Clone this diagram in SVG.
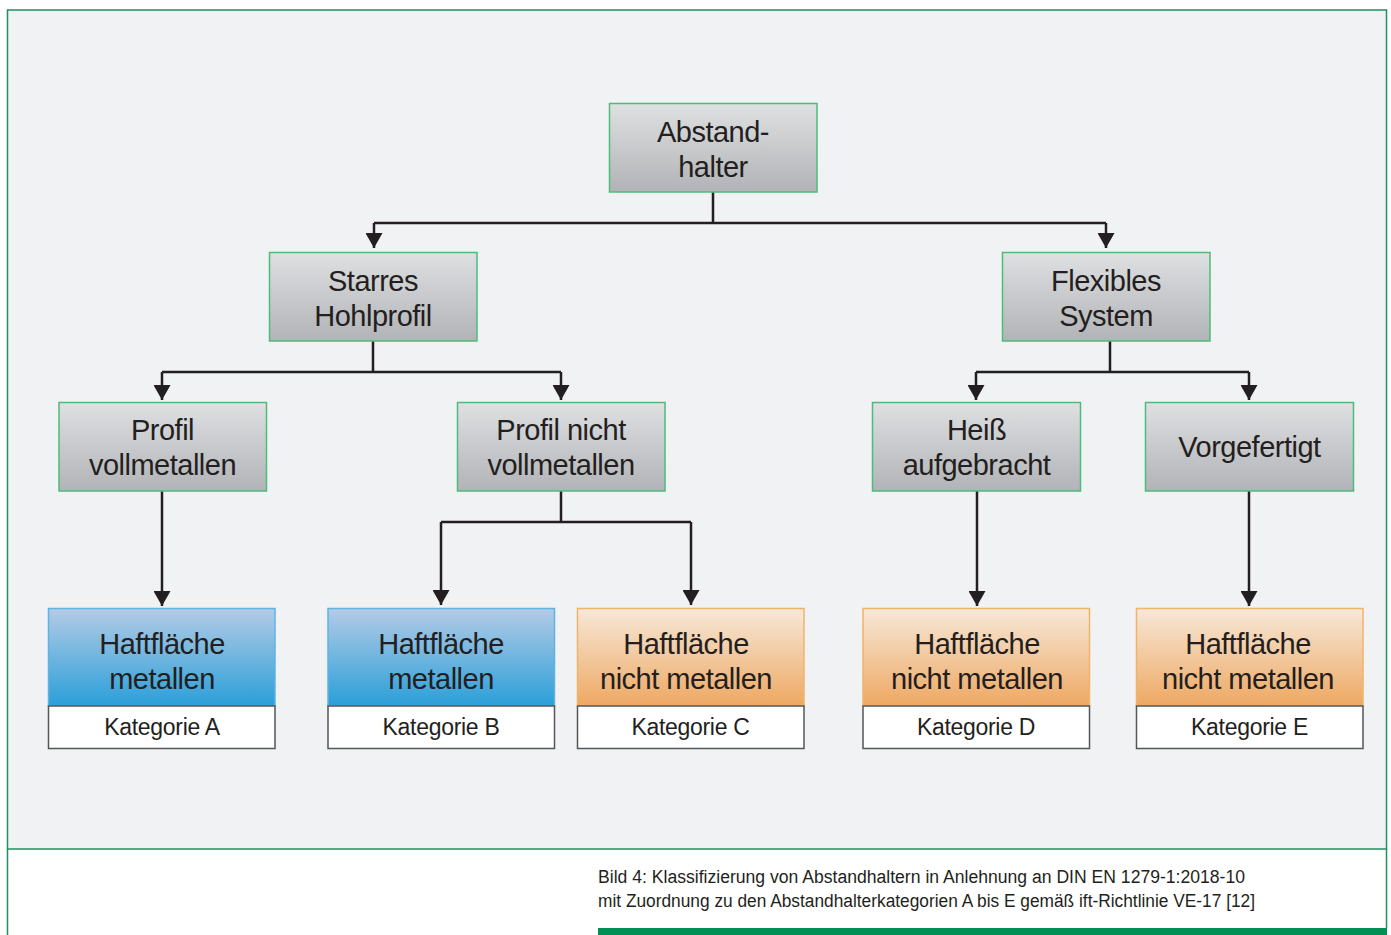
<svg xmlns="http://www.w3.org/2000/svg" width="1391" height="935" viewBox="0 0 1391 935">
<defs>
<linearGradient id="gGrey" x1="0" y1="0" x2="0" y2="1"><stop offset="0" stop-color="#dfe0e2"/><stop offset="1" stop-color="#b2b3b6"/></linearGradient>
<linearGradient id="gBlue" x1="0" y1="0" x2="0" y2="1"><stop offset="0" stop-color="#b4cbe6"/><stop offset="1" stop-color="#2a9fd9"/></linearGradient>
<linearGradient id="gOrange" x1="0" y1="0" x2="0" y2="1"><stop offset="0" stop-color="#f7e8d8"/><stop offset="1" stop-color="#eea862"/></linearGradient>
<marker id="arr" viewBox="0 0 15 17" refX="15" refY="8.5" markerWidth="15" markerHeight="17" markerUnits="userSpaceOnUse" orient="auto"><path d="M0,0 L15,8.5 L0,17 z" fill="#231f20"/></marker>
</defs>
<style>
.grey{fill:url(#gGrey);stroke:#4dbb7a;stroke-width:1.5}
.blue{fill:url(#gBlue);stroke:#5fb3e3;stroke-width:1.5}
.orange{fill:url(#gOrange);stroke:#f0b469;stroke-width:1.5}
.cat{fill:#ffffff;stroke:#555658;stroke-width:1.5}
.t{font-family:"Liberation Sans",Arial,sans-serif;font-size:29px;letter-spacing:-0.5px;fill:#231f20;text-anchor:middle}
.k{font-family:"Liberation Sans",Arial,sans-serif;font-size:23px;letter-spacing:-0.3px;fill:#231f20;text-anchor:middle}
.cap{font-family:"Liberation Sans",Arial,sans-serif;font-size:18px;fill:#231f20}
.c{fill:none;stroke:#231f20;stroke-width:2.5}
</style>
<rect x="0" y="0" width="1391" height="935" fill="#ffffff"/>
<rect x="7.5" y="10" width="1379" height="839" fill="#f1f2f4" stroke="#1f9160" stroke-width="1.5"/>
<path d="M7.5,849 V935 M1386.5,849 V928" stroke="#1f9160" stroke-width="1.5" fill="none"/>
<rect x="598" y="928" width="789" height="7" fill="#009055"/>

<g id="connectors">
<path class="c" d="M713,192 V223 M374,223 H1106"/>
<path class="c" d="M374,223 V248" marker-end="url(#arr)"/>
<path class="c" d="M1106,223 V248" marker-end="url(#arr)"/>
<path class="c" d="M373,341 V372 M162,372 H561"/>
<path class="c" d="M162,372 V400" marker-end="url(#arr)"/>
<path class="c" d="M561,372 V400" marker-end="url(#arr)"/>
<path class="c" d="M1110,341 V372 M976,372 H1249"/>
<path class="c" d="M976,372 V400" marker-end="url(#arr)"/>
<path class="c" d="M1249,372 V400" marker-end="url(#arr)"/>
<path class="c" d="M162,491 V606" marker-end="url(#arr)"/>
<path class="c" d="M561,491 V522 M441,522 H691"/>
<path class="c" d="M441,522 V605" marker-end="url(#arr)"/>
<path class="c" d="M691,522 V605" marker-end="url(#arr)"/>
<path class="c" d="M977,491 V606" marker-end="url(#arr)"/>
<path class="c" d="M1249,491 V606" marker-end="url(#arr)"/>
</g>

<g id="n-abstandhalter">
<rect class="grey" x="609.5" y="103.5" width="207.5" height="88.5"/>
<text class="t" x="713" y="142">Abstand-</text>
<text class="t" x="713" y="177">halter</text>
</g>
<g id="n-starres">
<rect class="grey" x="269.5" y="252.5" width="207.5" height="88.5"/>
<text class="t" x="373" y="291">Starres</text>
<text class="t" x="373" y="326">Hohlprofil</text>
</g>
<g id="n-flexibles">
<rect class="grey" x="1002.5" y="252.5" width="207.5" height="88.5"/>
<text class="t" x="1106" y="291">Flexibles</text>
<text class="t" x="1106" y="326">System</text>
</g>
<g id="n-profil-voll">
<rect class="grey" x="59" y="402.5" width="207.5" height="88.5"/>
<text class="t" x="162.5" y="440">Profil</text>
<text class="t" x="162.5" y="475">vollmetallen</text>
</g>
<g id="n-profil-nicht">
<rect class="grey" x="457.5" y="402.5" width="207.5" height="88.5"/>
<text class="t" x="561" y="440">Profil nicht</text>
<text class="t" x="561" y="475">vollmetallen</text>
</g>
<g id="n-heiss">
<rect class="grey" x="872.5" y="402.5" width="208" height="88.5"/>
<text class="t" x="976.5" y="440">Heiß</text>
<text class="t" x="976.5" y="475">aufgebracht</text>
</g>
<g id="n-vorgefertigt">
<rect class="grey" x="1145.5" y="402.5" width="208" height="88.5"/>
<text class="t" x="1249.5" y="457">Vorgefertigt</text>
</g>

<g id="n-kat-a">
<rect class="blue" x="48.5" y="608.5" width="226.5" height="97.5"/>
<rect class="cat" x="48.5" y="706" width="226.5" height="42.5"/>
<text class="t" x="162" y="654">Haftfläche</text>
<text class="t" x="162" y="689">metallen</text>
<text class="k" x="162" y="735">Kategorie A</text>
</g>
<g id="n-kat-b">
<rect class="blue" x="328" y="608.5" width="226.5" height="97.5"/>
<rect class="cat" x="328" y="706" width="226.5" height="42.5"/>
<text class="t" x="441" y="654">Haftfläche</text>
<text class="t" x="441" y="689">metallen</text>
<text class="k" x="441" y="735">Kategorie B</text>
</g>
<g id="n-kat-c">
<rect class="orange" x="577.5" y="608.5" width="226.5" height="97.5"/>
<rect class="cat" x="577.5" y="706" width="226.5" height="42.5"/>
<text class="t" x="686" y="654">Haftfläche</text>
<text class="t" x="686" y="689">nicht metallen</text>
<text class="k" x="690.5" y="735">Kategorie C</text>
</g>
<g id="n-kat-d">
<rect class="orange" x="863" y="608.5" width="226.5" height="97.5"/>
<rect class="cat" x="863" y="706" width="226.5" height="42.5"/>
<text class="t" x="977" y="654">Haftfläche</text>
<text class="t" x="977" y="689">nicht metallen</text>
<text class="k" x="976" y="735">Kategorie D</text>
</g>
<g id="n-kat-e">
<rect class="orange" x="1136.5" y="608.5" width="226.5" height="97.5"/>
<rect class="cat" x="1136.5" y="706" width="226.5" height="42.5"/>
<text class="t" x="1248" y="654">Haftfläche</text>
<text class="t" x="1248" y="689">nicht metallen</text>
<text class="k" x="1249.5" y="735">Kategorie E</text>
</g>

<g id="caption">
<text class="cap" x="598" y="883" textLength="647" lengthAdjust="spacingAndGlyphs">Bild 4: Klassifizierung von Abstandhaltern in Anlehnung an DIN EN 1279-1:2018-10</text>
<text class="cap" x="598" y="907" textLength="657" lengthAdjust="spacingAndGlyphs">mit Zuordnung zu den Abstandhalterkategorien A bis E gemäß ift-Richtlinie VE-17 [12]</text>
</g>
</svg>
